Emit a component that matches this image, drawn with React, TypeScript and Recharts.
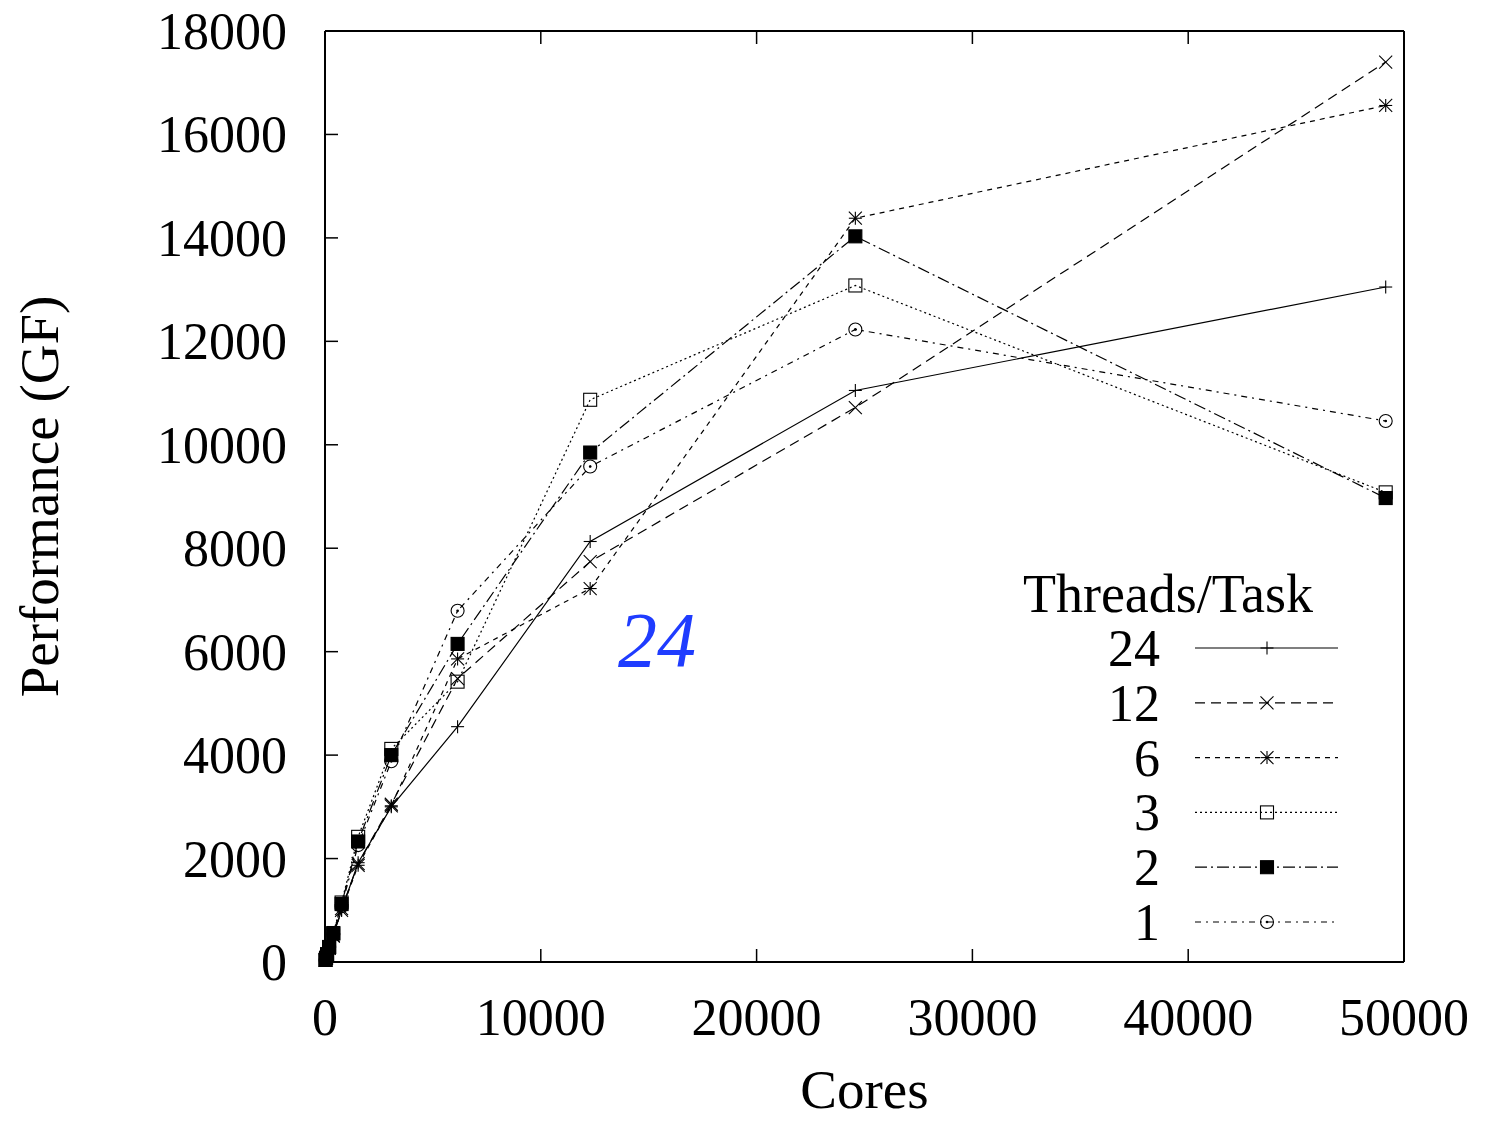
import { LineChart, Line, XAxis, YAxis, Legend } from "recharts";

const cores = [24, 48, 96, 192, 384, 768, 1536, 3072, 6144, 12288, 24576, 49152];
const threads24 = [35, 70, 140, 270, 520, 1000, 1920, 3000, 4550, 8130, 11050, 13050];
const threads12 = [35, 70, 140, 270, 510, 1030, 1900, 3050, 5480, 7740, 10720, 17400];
const threads6 = [35, 70, 135, 265, 500, 1000, 1870, 3020, 5860, 7220, 14380, 16560];
const threads3 = [40, 80, 150, 290, 560, 1150, 2420, 4120, 5420, 10870, 13080, 9080];
const threads2 = [40, 80, 150, 290, 550, 1120, 2330, 4000, 6150, 9850, 14030, 8970];
const threads1 = [40, 75, 145, 285, 540, 1080, 2260, 3880, 6790, 9580, 12230, 10460];

const xTicks = [0, 10000, 20000, 30000, 40000, 50000];
const yTicks = [0, 2000, 4000, 6000, 8000, 10000, 12000, 14000, 16000, 18000];

const data = cores.map((c, i) => ({
  cores: c,
  t24: threads24[i],
  t12: threads12[i],
  t6: threads6[i],
  t3: threads3[i],
  t2: threads2[i],
  t1: threads1[i],
}));

const series = [
  { key: "t24", name: "24", dash: undefined, shape: "plus" },
  { key: "t12", name: "12", dash: "10 6", shape: "cross" },
  { key: "t6", name: "6", dash: "5 5", shape: "star" },
  { key: "t3", name: "3", dash: "2 3", shape: "square" },
  { key: "t2", name: "2", dash: "12 4 2 4", shape: "fsquare" },
  { key: "t1", name: "1", dash: "6 5 2 5", shape: "circle" },
];

const FONT = '"Liberation Serif", "Times New Roman", serif';
const TICK = 13;

function Marker({ cx, cy, shape }: { cx: number; cy: number; shape: string }) {
  const s = 6.5;
  const st = { stroke: "#000", strokeWidth: 1.1 };
  if (shape === "plus")
    return (
      <g {...st}>
        <line x1={cx - s} y1={cy} x2={cx + s} y2={cy} />
        <line x1={cx} y1={cy - s} x2={cx} y2={cy + s} />
      </g>
    );
  if (shape === "cross")
    return (
      <g {...st}>
        <line x1={cx - s} y1={cy - s} x2={cx + s} y2={cy + s} />
        <line x1={cx - s} y1={cy + s} x2={cx + s} y2={cy - s} />
      </g>
    );
  if (shape === "star")
    return (
      <g {...st}>
        <line x1={cx - s} y1={cy} x2={cx + s} y2={cy} />
        <line x1={cx} y1={cy - s} x2={cx} y2={cy + s} />
        <line x1={cx - s} y1={cy - s} x2={cx + s} y2={cy + s} />
        <line x1={cx - s} y1={cy + s} x2={cx + s} y2={cy - s} />
      </g>
    );
  if (shape === "square")
    return <rect x={cx - s} y={cy - s} width={2 * s} height={2 * s} fill="none" {...st} />;
  if (shape === "fsquare")
    return <rect x={cx - s} y={cy - s} width={2 * s} height={2 * s} fill="#000" {...st} />;
  return (
    <g {...st}>
      <circle cx={cx} cy={cy} r={s} fill="none" />
      <circle cx={cx} cy={cy} r={0.8} fill="#000" />
    </g>
  );
}

const makeDot = (shape: string) => (props: any) =>
  <Marker key={`${shape}-${props.index}`} cx={props.cx} cy={props.cy} shape={shape} />;

function BottomTick(props: any) {
  const { x, y, payload } = props;
  return (
    <g>
      <line x1={x} y1={y} x2={x} y2={y - TICK} stroke="#000" strokeWidth={1.5} />
      <text x={x} y={y + 73} textAnchor="middle" fontFamily={FONT} fontSize={52} fill="#000">
        {payload.value}
      </text>
    </g>
  );
}

function TopTick(props: any) {
  const { x, y } = props;
  return <line x1={x} y1={y} x2={x} y2={y + TICK} stroke="#000" strokeWidth={1.5} />;
}

function LeftTick(props: any) {
  const { x, y, payload } = props;
  return (
    <g>
      <line x1={x} y1={y} x2={x + TICK} y2={y} stroke="#000" strokeWidth={1.5} />
      <text x={x - 38} y={y + 18} textAnchor="end" fontFamily={FONT} fontSize={52} fill="#000">
        {payload.value}
      </text>
    </g>
  );
}

function RightTick(props: any) {
  const { x, y } = props;
  return <line x1={x} y1={y} x2={x - TICK} y2={y} stroke="#000" strokeWidth={1.5} />;
}

function YTitle(props: any) {
  const cy = props.viewBox.y + props.viewBox.height / 2;
  return (
    <text
      x={58}
      y={cy}
      transform={`rotate(-90 58 ${cy})`}
      textAnchor="middle"
      fontFamily={FONT}
      fontSize={55}
      fill="#000"
    >
      Performance (GF)
    </text>
  );
}

function XTitle(props: any) {
  const cx = props.viewBox.x + props.viewBox.width / 2;
  return (
    <text x={cx} y={1108} textAnchor="middle" fontFamily={FONT} fontSize={55} fill="#000">
      Cores
    </text>
  );
}

function LegendBox() {
  return (
    <svg width={400} height={400} style={{ display: "block" }}>
      <text x={168} y={52} textAnchor="middle" fontFamily={FONT} fontSize={54} fill="#000">
        Threads/Task
      </text>
      {series.map((s, i) => {
        const cy = 88 + i * 54.8;
        return (
          <g key={s.key}>
            <text x={160} y={cy + 18} textAnchor="end" fontFamily={FONT} fontSize={52} fill="#000">
              {s.name}
            </text>
            <line x1={195} y1={cy} x2={338} y2={cy} stroke="#000" strokeWidth={1.2} strokeDasharray={s.dash} />
            <Marker cx={267} cy={cy} shape={s.shape} />
          </g>
        );
      })}
    </svg>
  );
}

export default function App() {
  return (
    <div style={{ position: "absolute", left: 0, top: 0, width: 1485, height: 1121, background: "#fff" }}>
      <LineChart width={1485} height={1121} data={data} margin={{ top: 0, right: 0, bottom: 0, left: 0 }}>
        <XAxis
          dataKey="cores"
          type="number"
          domain={[0, 50000]}
          ticks={xTicks}
          interval={0}
          height={159}
          tickSize={0}
          tickMargin={0}
          tickLine={false}
          axisLine={{ stroke: "#000", strokeWidth: 2 }}
          tick={<BottomTick />}
          label={<XTitle />}
        />
        <XAxis
          xAxisId="top"
          orientation="top"
          dataKey="cores"
          type="number"
          domain={[0, 50000]}
          ticks={xTicks}
          interval={0}
          height={31}
          tickSize={0}
          tickMargin={0}
          tickLine={false}
          axisLine={{ stroke: "#000", strokeWidth: 2 }}
          tick={<TopTick />}
        />
        <YAxis
          type="number"
          domain={[0, 18000]}
          ticks={yTicks}
          interval={0}
          width={325}
          tickSize={0}
          tickMargin={0}
          tickLine={false}
          axisLine={{ stroke: "#000", strokeWidth: 2 }}
          tick={<LeftTick />}
          label={<YTitle />}
        />
        <YAxis
          yAxisId="right"
          orientation="right"
          type="number"
          domain={[0, 18000]}
          ticks={yTicks}
          interval={0}
          width={81}
          tickSize={0}
          tickMargin={0}
          tickLine={false}
          axisLine={{ stroke: "#000", strokeWidth: 2 }}
          tick={<RightTick />}
        />
        {series.map((s) => (
          <Line
            key={s.key}
            dataKey={s.key}
            name={s.name}
            type="linear"
            stroke="#000"
            strokeWidth={1.2}
            strokeDasharray={s.dash}
            dot={makeDot(s.shape)}
            activeDot={false}
            isAnimationActive={false}
          />
        ))}
        <Legend
          layout="horizontal"
          verticalAlign="middle"
          align="center"
          content={<LegendBox />}
          wrapperStyle={{ left: 1000, top: 560, width: 400, height: 400 }}
        />
      </LineChart>
      <div
        style={{
          position: "absolute",
          left: 618,
          top: 590,
          fontFamily: FONT,
          fontStyle: "italic",
          fontSize: 78,
          color: "#1f3cff",
          lineHeight: "100px",
        }}
      >
        24
      </div>
    </div>
  );
}
